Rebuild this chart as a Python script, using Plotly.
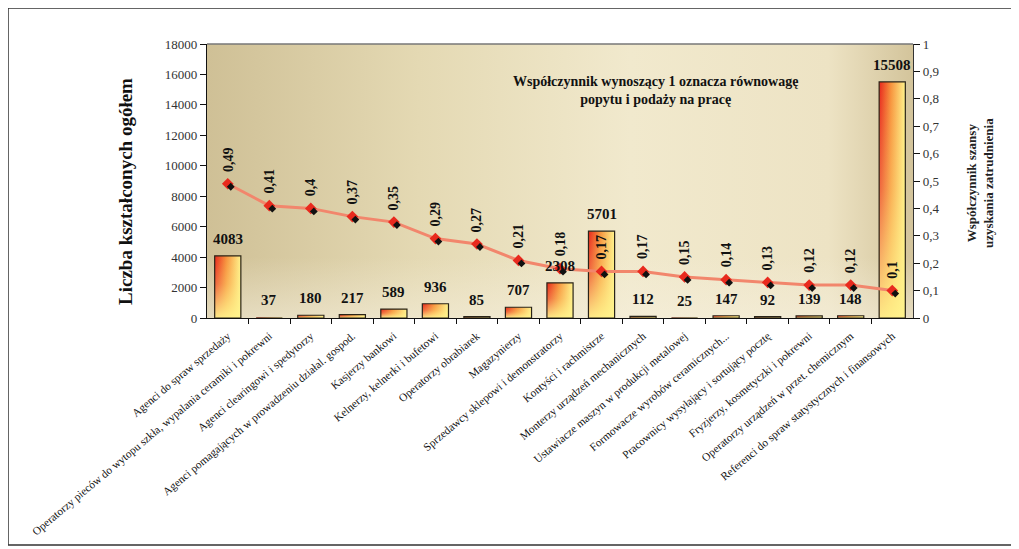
import plotly.graph_objects as go

categories = [
    "Agenci do spraw sprzedaży",
    "Operatorzy pieców do wytopu szkła, wypalania ceramiki i pokrewni",
    "Agenci clearingowi i spedytorzy",
    "Agenci pomagających w prowadzeniu działal. gospod.",
    "Kasjerzy bankowi",
    "Kelnerzy, kelnerki i bufetowi",
    "Operatorzy obrabiarek",
    "Magazynierzy",
    "Sprzedawcy sklepowi i demonstratorzy",
    "Kontyści i rachmistrze",
    "Monterzy urządzeń mechanicznych",
    "Ustawiacze maszyn w produkcji metalowej",
    "Formowacze wyrobów ceramicznych...",
    "Pracownicy wysyłający i sortujący pocztę",
    "Fryzjerzy, kosmetyczki i pokrewni",
    "Operatorzy urządzeń w przet. chemicznym",
    "Referenci do spraw statystycznych i finansowych",
]
trained = [4083, 37, 180, 217, 589, 936, 85, 707, 2308, 5701, 112, 25, 147, 92, 139, 148, 15508]
coef = [0.49, 0.41, 0.4, 0.37, 0.35, 0.29, 0.27, 0.21, 0.18, 0.17, 0.17, 0.15, 0.14, 0.13, 0.12, 0.12, 0.1]
left_ticks = [0, 2000, 4000, 6000, 8000, 10000, 12000, 14000, 16000, 18000]
right_ticks = [0, 0.1, 0.2, 0.3, 0.4, 0.5, 0.6, 0.7, 0.8, 0.9, 1]

FONT = "Liberation Serif"
n = len(categories)
xs = list(range(n))
BW = 0.63

fig = go.Figure()

# plot background gradient
fig.add_trace(go.Scatter(
    x=[-0.5, n - 0.5, n - 0.5, -0.5, -0.5], y=[0, 0, 18000, 18000, 0],
    fill="toself", mode="none", hoverinfo="skip", showlegend=False,
    fillgradient=dict(type="horizontal", colorscale=[
        [0, "#cfc096"], [0.3, "#e4d9b3"], [0.6, "#f1e9cd"], [0.88, "#ede3c4"], [1, "#d3c49b"]]),
))
fig.add_trace(go.Scatter(
    x=[-0.5, n - 0.5, n - 0.5, -0.5, -0.5], y=[0, 0, 4000, 4000, 0],
    fill="toself", mode="none", hoverinfo="skip", showlegend=False,
    fillgradient=dict(type="vertical", colorscale=[
        [0, "rgba(246,240,222,0.55)"], [1, "rgba(246,240,222,0)"]]),
))

# bars: gradient fills + outline
for i, v in enumerate(trained):
    px = [i - BW / 2, i + BW / 2, i + BW / 2, i - BW / 2, i - BW / 2]
    py = [0, 0, v, v, 0]
    fig.add_trace(go.Scatter(
        x=px, y=py, fill="toself", mode="none", hoverinfo="skip", showlegend=False,
        fillgradient=dict(type="horizontal", colorscale=[
            [0, "#e8261c"], [0.45, "#f7923c"], [1, "#fff38c"]]),
    ))
    fig.add_trace(go.Scatter(
        x=px, y=py, fill="toself", mode="lines", hoverinfo="skip", showlegend=False,
        line=dict(color="#2a2418", width=1.2),
        fillgradient=dict(type="vertical", colorscale=[
            [0, "rgba(255,243,140,0.95)"], [0.55, "rgba(255,243,140,0.3)"], [1, "rgba(255,243,140,0)"]]),
    ))

# shadow markers (offset axes)
px_x = n / 706.0
px_y = 1 / 274.0
fig.add_trace(go.Scatter(
    x=xs, y=coef, xaxis="x3", yaxis="y3", mode="markers",
    marker=dict(symbol="diamond", size=6, color="#111111"), showlegend=False, hoverinfo="skip",
))
# coefficient line
fig.add_trace(go.Scatter(
    x=xs, y=coef, yaxis="y2", mode="lines+markers",
    line=dict(color="#f2866c", width=3),
    marker=dict(symbol="diamond", size=9, color="#e82a1e"),
    showlegend=False,
))

annotations = []
# bar value labels
for i, v in enumerate(trained):
    annotations.append(dict(
        x=i, y=v, xref="x", yref="y", text=str(v), showarrow=False,
        xanchor="center", yanchor="bottom", yshift=7,
        font=dict(family=FONT, size=15, color="#111111", weight="bold"),
    ))
# coefficient labels
for i, c in enumerate(coef):
    annotations.append(dict(
        x=i, y=c, xref="x", yref="y2", text=str(c).replace(".", ","),
        textangle=-90, showarrow=False, xanchor="center", yanchor="bottom", yshift=10,
        font=dict(family=FONT, size=14, color="#111111", weight="bold"),
    ))

annotations += [
    dict(x=(125 - 207) / 706, y=(318 - 192) / 274, xref="paper", yref="paper",
         text="Liczba kształconych ogółem", xanchor="center", yanchor="middle",
         textangle=-90, showarrow=False, font=dict(family=FONT, size=19, color="#111", weight="bold")),
    dict(x=(980 - 207) / 706, y=(318 - 183) / 274, xref="paper", yref="paper",
         text="Współczynnik szansy<br>uzyskania zatrudnienia", xanchor="center", yanchor="middle",
         textangle=-90, showarrow=False, font=dict(family=FONT, size=13, color="#222", weight="bold")),
    dict(x=(655 - 207) / 706, y=(318 - 91) / 274, xref="paper", yref="paper",
         text="Współczynnik wynoszący 1 oznacza równowagę<br>popytu i podaży na pracę",
         xanchor="center", yanchor="middle",
         showarrow=False, font=dict(family=FONT, size=14, color="#111", weight="bold")),
]

fig.update_layout(
    width=1011, height=541,
    margin=dict(l=199, r=106, t=36, b=231),
    paper_bgcolor="white", plot_bgcolor="white",
    font=dict(family=FONT, size=13, color="#222"),
    showlegend=False,
    annotations=annotations,
    xaxis=dict(
        range=[-0.5, n - 0.5], tickmode="array", tickvals=xs, ticktext=categories,
        tickangle=-40, ticks="", tickfont=dict(family=FONT, size=11.3, color="#111"),
        ticklabelstandoff=6,
        showline=True, linecolor="#111", linewidth=1.2, showgrid=False, zeroline=False,
        minor=dict(tickmode="array", tickvals=[i + 0.5 for i in xs[:-1]], ticks="outside",
                   ticklen=5, tickcolor="#111", showgrid=False),
        automargin=False,
    ),
    yaxis=dict(
        range=[0, 18000], tickmode="array", tickvals=left_ticks, ticktext=[str(t) for t in left_ticks],
        ticks="outside", ticklen=6, tickcolor="#111", showline=True, linecolor="#111", linewidth=1.2,
        showgrid=False, zeroline=False, tickfont=dict(family=FONT, size=13, color="#333"),
        automargin=False,
    ),
    yaxis2=dict(
        range=[0, 1], overlaying="y", side="right", tickmode="array", tickvals=right_ticks,
        ticktext=[str(t).replace(".", ",") for t in right_ticks],
        ticks="outside", ticklen=6, tickcolor="#111", showline=True, linecolor="#333", linewidth=1.2,
        showgrid=False, zeroline=False, tickfont=dict(family=FONT, size=13, color="#333"),
        automargin=False,
    ),
    xaxis3=dict(range=[-0.5 - 3 * px_x, n - 0.5 - 3 * px_x], overlaying="x", visible=False),
    yaxis3=dict(range=[0 + 3 * px_y, 1 + 3 * px_y], overlaying="y", visible=False),
    shapes=[
        dict(type="line", xref="paper", yref="paper", x0=0, x1=1, y0=1, y1=1,
             line=dict(color="#777", width=1.5)),
        dict(type="rect", xref="paper", yref="paper",
             x0=(8 - 207) / 706, x1=(1012 - 207) / 706, y0=(318 - 545) / 274, y1=(318 - 8) / 274,
             line=dict(color="#333", width=1.5), fillcolor="rgba(0,0,0,0)"),
    ],
)

fig.write_html("out.html")
